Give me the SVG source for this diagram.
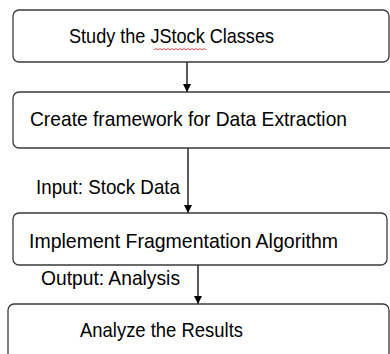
<svg xmlns="http://www.w3.org/2000/svg" width="390" height="354" viewBox="0 0 390 354">
<defs>
<marker id="ah" viewBox="0 0 10 10" refX="10" refY="5" markerWidth="8" markerHeight="9" markerUnits="userSpaceOnUse" orient="auto">
<path d="M0,0 L10,5 L0,10 Z" fill="#000"/>
</marker>
</defs>
<style>
.box{fill:#fff;stroke:#3a3a3a;stroke-width:1.3}
.t{font-family:"Liberation Sans",Arial,sans-serif;font-size:21px;fill:#000}
.c{stroke:#000;stroke-width:1.3;fill:none}
</style>
<rect width="390" height="354" fill="#fff"/>
<g id="connectors">
<line class="c" x1="187" y1="62" x2="187" y2="92" marker-end="url(#ah)"/>
<line class="c" x1="188" y1="148" x2="188" y2="213" marker-end="url(#ah)"/>
<line class="c" x1="198" y1="265" x2="198" y2="304" marker-end="url(#ah)"/>
<text class="t" x="36" y="194" textLength="144" lengthAdjust="spacingAndGlyphs">Input: Stock Data</text>
<text class="t" x="41" y="285" textLength="139" lengthAdjust="spacingAndGlyphs">Output: Analysis</text>
</g>
<g id="n1">
<rect class="box" x="13" y="10" width="376" height="52" rx="6"/>
<text class="t" x="69" y="43" textLength="205" lengthAdjust="spacingAndGlyphs">Study the JStock Classes</text>
<path d="M154,50 l2,-1.5 l2,1.5 l2,-1.5 l2,1.5 l2,-1.5 l2,1.5 l2,-1.5 l2,1.5 l2,-1.5 l2,1.5 l2,-1.5 l2,1.5 l2,-1.5 l2,1.5 l2,-1.5 l2,1.5 l2,-1.5 l2,1.5 l2,-1.5 l2,1.5 l2,-1.5 l2,1.5 l2,-1.5 l2,1.5 l2,-1.5 l2,1.5" fill="none" stroke="#e02020" stroke-width="0.8"/>
</g>
<g id="n2">
<rect class="box" x="13" y="92" width="384" height="56" rx="6"/>
<text class="t" x="30" y="126" textLength="317" lengthAdjust="spacingAndGlyphs">Create framework for Data Extraction</text>
</g>
<g id="n3">
<rect class="box" x="13" y="213" width="374" height="52" rx="6"/>
<text class="t" x="29" y="248" textLength="309" lengthAdjust="spacingAndGlyphs">Implement Fragmentation Algorithm</text>
</g>
<g id="n4">
<rect class="box" x="8" y="304" width="381" height="56" rx="6"/>
<text class="t" x="80" y="337" textLength="163" lengthAdjust="spacingAndGlyphs">Analyze the Results</text>
</g>
</svg>
